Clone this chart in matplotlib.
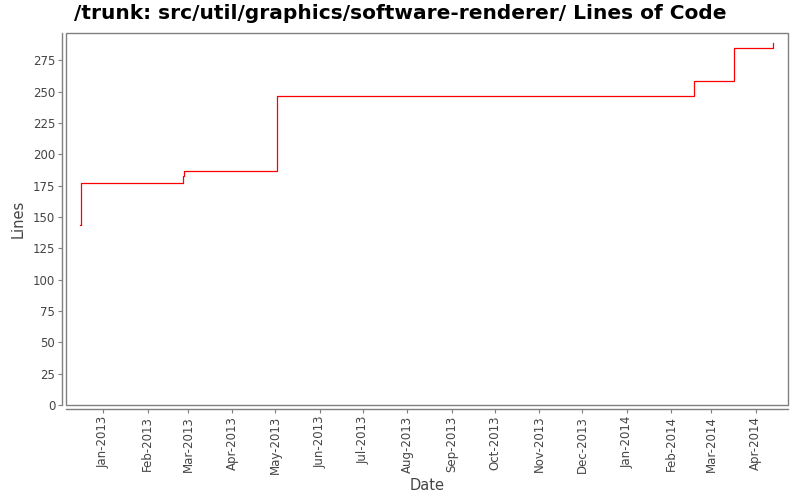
import matplotlib
matplotlib.use("Agg")
import matplotlib.pyplot as plt
import matplotlib.dates as mdates
from matplotlib.patches import Rectangle
from datetime import datetime

# Data
dates = ["2012-12-16 00:00", "2012-12-16 06:00", "2013-02-25 06:00", "2013-02-26 12:00",
         "2013-05-01 22:00", "2014-02-16 18:00", "2014-03-16 14:00", "2014-04-12 20:00"]
lines = [144, 177, 183, 187, 247, 259, 285, 289]
yticks = list(range(0, 276, 25))
title = "/trunk: src/util/graphics/software-renderer/ Lines of Code"

x = [datetime.strptime(d, "%Y-%m-%d %H:%M") for d in dates]

plt.rcParams['font.family'] = ['DejaVu Sans']
fig = plt.figure(figsize=(8, 5), dpi=100)
ax = fig.add_axes([66/800, 95/500, 722/800, 371.7/500])

ax.step(x, lines, where='post', color='#ff0000', linewidth=0.9)

ax.set_xlim(datetime(2012, 12, 6, 0), datetime(2014, 4, 23, 12))
ax.set_ylim(0, 296.7)
ax.set_yticks(yticks)

ax.xaxis.set_major_locator(mdates.MonthLocator())
ax.xaxis.set_major_formatter(mdates.DateFormatter('%b-%Y'))

gray = '#808080'
for s in ['top', 'right']:
    ax.spines[s].set_visible(False)
for s in ['left', 'bottom']:
    ax.spines[s].set_position(('outward', 2.9))
    ax.spines[s].set_color(gray)
    ax.spines[s].set_linewidth(1.0)

ax.add_patch(Rectangle((0, 0), 1, 1, transform=ax.transAxes, fill=False,
                       edgecolor=gray, linewidth=1.0, clip_on=False, zorder=5))

ax.tick_params(axis='both', direction='out', length=2.9, width=0.8, color=gray,
               labelcolor='#444444', labelsize=8.5, pad=2)
ax.tick_params(axis='x', labelrotation=90)

ax.set_xlabel('Date', fontsize=10.5, color='#444444', va='center')
ax.xaxis.set_label_coords(0.5, (15 - 95) / 371.7)
ax.set_ylabel('Lines', fontsize=10.5, color='#444444', va='center')
ax.yaxis.set_label_coords((18.5 - 66) / 722, 0.5)

fig.text(400/800, 1 - 13.5/500, title, ha='center', va='center',
         fontsize=14.5, fontweight='bold', color='black')

fig.savefig('out.png', dpi=100)
